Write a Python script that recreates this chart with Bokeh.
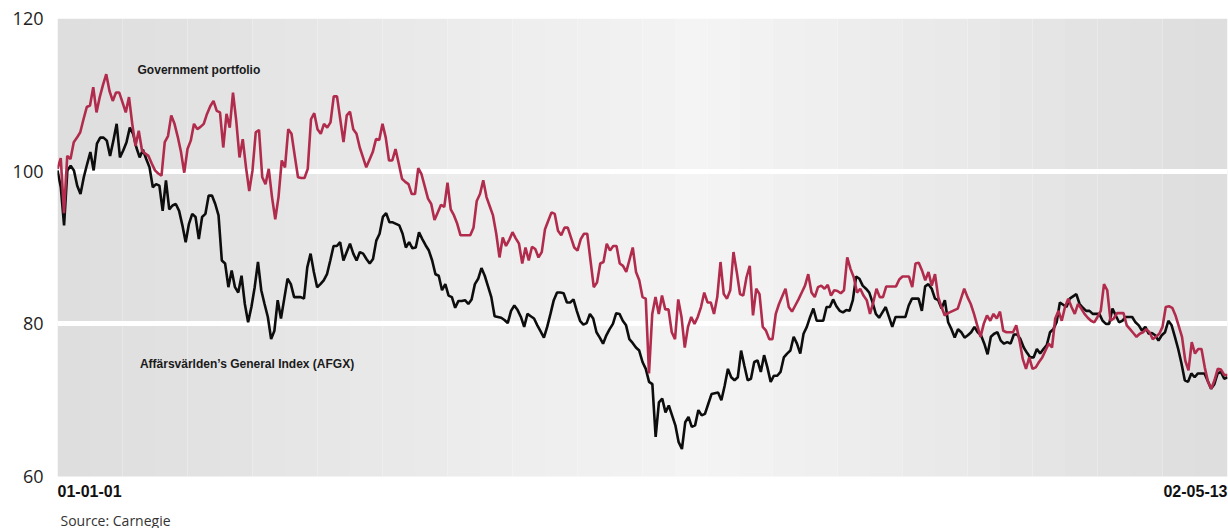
import numpy as np
import pandas as pd
from bokeh.plotting import figure
from bokeh.models import Label, Range1d, FixedTicker
from bokeh.embed import file_html
from bokeh.resources import INLINE

# ---- data (index level) ----
start_date = "2001-01-01"
end_date = "2002-05-13"

government_portfolio = [
    100.3, 101.7, 94.5, 102.0, 101.6, 103.8, 104.4, 105.1, 106.8, 108.4,
    108.6, 111.0, 107.7, 109.7, 111.3, 112.7, 110.5, 109.2, 110.3, 110.3,
    109.0, 107.7, 109.7, 106.2, 103.3, 105.3, 102.7, 102.3, 102.0, 101.0,
    100.1, 99.7, 99.4, 103.8, 104.6, 107.3, 106.2, 104.5, 102.5, 99.8,
    102.9, 104.0, 106.2, 105.5, 105.8, 106.2, 107.5, 108.5, 109.2, 107.9,
    107.7, 103.1, 107.5, 105.7, 110.3, 106.6, 101.8, 104.2, 100.5, 97.4,
    100.1, 105.1, 105.4, 99.2, 98.3, 100.3, 96.6, 93.7, 96.6, 101.4,
    100.5, 105.5, 104.9, 102.0, 99.2, 99.1, 99.1, 100.3, 106.8, 107.6,
    105.5, 104.9, 106.2, 105.7, 106.4, 109.8, 109.8, 106.8, 103.8, 107.3,
    107.8, 105.5, 104.9, 103.1, 101.8, 100.5, 101.5, 102.5, 104.2, 104.1,
    106.2, 104.4, 101.4, 101.4, 102.9, 101.0, 99.0, 98.6, 98.3, 97.0,
    97.0, 100.4, 99.6, 98.0, 96.4, 95.7, 93.6, 94.6, 95.6, 95.3,
    98.5, 95.0, 94.2, 93.1, 91.6, 91.6, 91.6, 91.6, 92.6, 96.1,
    97.0, 98.8, 96.6, 95.4, 94.2, 91.8, 88.7, 91.3, 90.2, 91.0,
    92.0, 91.2, 90.5, 87.9, 90.0, 88.3, 90.1, 89.8, 88.7, 89.4,
    92.4, 93.5, 94.6, 94.4, 92.2, 91.6, 92.6, 92.6, 91.3, 90.0,
    89.6, 91.1, 91.8, 91.8, 88.3, 84.8, 85.4, 87.9, 88.1, 90.5,
    89.6, 90.2, 90.2, 87.9, 87.6, 86.8, 88.4, 90.0,
    86.8, 85.7, 83.5, 83.3, 73.5, 81.3, 83.5, 81.3, 83.7, 81.9,
    81.9, 78.9, 78.0, 83.2, 80.9, 76.9, 79.6, 80.9, 80.0, 80.9,
    82.2, 84.1, 82.8, 82.8, 81.3, 83.5, 88.1, 83.9, 83.3, 84.4,
    89.4, 86.8, 83.9, 83.7, 86.1, 87.6, 81.1, 84.6, 83.9, 79.6,
    79.1, 78.0, 78.0, 81.3, 82.6, 83.6, 84.6, 82.2, 81.6, 82.4,
    83.2, 84.1, 85.0, 86.5, 84.1, 83.5, 84.8, 85.0, 84.6,
    85.1, 83.7, 84.4, 84.3, 84.0, 84.4, 88.7, 87.2, 86.1, 84.1,
    84.6, 83.7, 83.1, 81.3, 82.8, 84.6, 83.5, 83.5, 84.9, 84.9,
    84.9, 84.9, 85.8, 86.2, 86.2, 86.2, 84.8, 87.9, 88.0, 87.0,
    85.7, 86.8, 85.0, 86.5, 83.5, 82.2, 81.1, 81.4, 81.6, 81.8,
    82.0, 83.3, 84.6, 83.5, 82.6, 81.3, 79.8, 78.3, 80.0, 81.1,
    80.4, 81.3, 80.7, 81.6, 79.1, 78.9, 78.9, 78.9, 79.8, 77.8,
    75.4,
    74.1, 75.6, 74.1, 74.3, 75.0, 75.6, 76.5, 77.4, 76.9, 80.7,
    81.7, 80.4, 82.2, 83.3, 82.2, 81.3, 82.6, 82.0, 81.3, 80.8,
    80.4, 80.2, 80.9, 81.7, 85.2, 84.4, 80.4, 80.7, 81.4, 81.4,
    81.4, 79.8, 79.3, 78.8, 78.3, 78.7, 78.9, 79.3, 78.9, 78.0,
    78.3, 78.7, 79.6, 82.2, 82.3, 82.1, 81.1, 79.7, 78.3, 75.2,
    73.9, 77.6, 76.1, 76.7, 76.7, 74.3, 72.4, 71.5, 72.6, 74.1,
    74.0, 73.3, 73.3,
]

afgx = [
    100.1, 97.9, 92.9, 100.1, 100.7, 100.1, 98.1, 97.0, 99.2, 100.9,
    102.5, 100.1, 103.6, 104.4, 104.4, 104.0, 102.0, 104.0, 106.2, 101.8,
    102.7, 103.8, 105.7, 104.9, 103.1, 101.8, 102.8, 101.6, 100.5, 97.9,
    98.3, 98.1, 94.8, 98.8, 95.0, 95.5, 95.7, 94.8, 92.9, 90.7,
    93.1, 94.4, 94.0, 91.1, 94.0, 94.4, 96.8, 96.8, 95.7, 94.2,
    88.3, 87.9, 84.8, 87.0, 84.8, 84.1, 86.3, 82.6, 80.2, 82.2,
    84.8, 88.1, 84.4, 82.6, 80.9, 78.0, 79.1, 83.1, 80.7, 83.3,
    85.9, 85.2, 83.5, 83.5, 83.5, 83.3, 87.4, 89.2, 86.8, 84.8,
    85.2, 85.7, 86.5, 88.3, 90.2, 90.2, 90.7, 88.3, 89.4, 90.5,
    89.2, 88.3, 89.4, 89.2, 88.5, 87.9, 88.5, 90.9, 91.8, 94.0,
    94.5, 93.3, 93.3, 93.1, 92.9, 91.8, 90.0, 90.7, 89.9, 90.0,
    92.0, 91.1, 90.3, 89.6, 88.3, 86.5, 86.3, 84.4,
    85.2, 83.7, 83.5, 82.1, 83.0, 83.0, 83.1, 82.6, 83.2, 85.2,
    85.9, 87.3, 86.3, 84.9, 83.5, 81.0, 80.9, 80.8, 80.5, 80.1,
    81.7, 82.4, 81.8, 80.9, 79.6, 81.3, 81.0, 80.7, 79.8, 79.0,
    78.2, 79.6, 81.3, 83.1, 84.1, 84.1, 84.0, 82.8, 82.8, 83.2,
    81.7, 80.4, 79.9, 80.1, 81.3, 80.7, 78.9, 78.2, 77.4, 78.5,
    79.3, 80.0, 81.4, 81.3, 80.4, 79.8, 78.0, 77.5, 76.9, 76.5,
    75.0, 74.1, 72.4, 72.1, 65.2, 69.7, 70.2, 68.4, 69.3, 68.0,
    66.7, 64.5, 63.6, 67.1, 67.8, 66.5, 66.7, 68.7, 68.0, 68.2,
    69.5, 70.8, 70.9, 71.0, 70.0, 71.9, 74.1, 73.0, 72.6, 73.0,
    76.5, 74.5, 72.6, 72.8, 75.0, 75.2, 73.7, 75.9, 74.3, 72.4,
    73.2, 73.2, 73.7, 75.6, 76.1, 76.5, 78.3, 77.4, 76.1, 78.7,
    79.6, 80.9, 82.0, 80.4, 80.4, 80.4, 82.2, 82.2, 83.2,
    82.3, 81.7, 81.5, 81.8, 81.7, 83.1, 86.2, 85.9, 85.0, 84.6,
    84.1, 82.8, 81.3, 80.8, 81.5, 82.2, 80.9, 79.6, 80.9, 80.9,
    80.9, 80.9, 82.4, 83.3, 83.3, 83.3, 81.7, 84.9, 85.2, 84.6,
    83.3, 83.1, 82.0, 83.1, 80.2, 79.3, 78.2, 79.3, 78.9, 78.2,
    78.5, 78.9, 79.6, 78.9, 78.5, 77.4, 76.0, 78.3, 78.7, 78.9,
    77.8, 77.4, 77.6, 77.4, 78.6, 78.6, 78.0, 76.9, 76.2,
    75.6, 75.6, 76.7, 76.1, 76.7, 77.2, 78.9, 79.3, 80.2, 82.8,
    82.5, 82.2, 83.3, 83.6, 83.9, 82.6, 82.1, 81.7, 81.7, 81.3,
    81.3, 81.3, 80.4, 80.0, 80.0, 82.0, 81.1, 80.2, 80.4, 80.9,
    80.9, 80.9, 80.2, 79.8, 79.1, 79.6, 78.7, 78.8, 78.5, 77.8,
    78.5, 78.9, 80.4, 79.8, 78.3, 76.7, 74.8, 72.6, 72.4, 73.5,
    73.0, 73.5, 73.5, 73.5, 72.5, 71.5, 72.1, 73.5, 73.7, 72.8,
    73.0,
]

y_ticks = [60, 80, 100, 120]
y_min, y_max = 60, 120
series_labels = ["Government portfolio", "Affärsvärlden\u2019s General Index (AFGX)"]
source_text = "Source: Carnegie"

# ---- layout ----
W, H = 1228, 528
top_px, left_px, right_px = 18, 57, 1
frame_h = H - top_px               # frame runs to the bottom edge (room for footer texts)
px_per_unit = 458.0 / (y_max - y_min)
y_low = y_max - frame_h / px_per_unit  # extra space below 60 holds the footer texts

t0 = pd.Timestamp(start_date)
t1 = pd.Timestamp(end_date)
gov_x = pd.date_range(t0, t1, periods=len(government_portfolio))
afgx_x = pd.date_range(t0, t1, periods=len(afgx))

p = figure(width=W, height=H, x_axis_type="datetime",
           x_range=Range1d(t0, t1), y_range=Range1d(y_low, y_max),
           output_backend="svg", toolbar_location=None,
           min_border_left=left_px, min_border_right=right_px,
           min_border_top=top_px, min_border_bottom=0)
p.outline_line_color = None
p.background_fill_color = "white"
p.border_fill_color = "white"

# vertical banded gradient background of the chart area
n_bands = 36
edges = pd.date_range(t0, t1, periods=n_bands + 1)
frac = (np.arange(n_bands) + 0.5) / n_bands
peak = 0.55
tt = np.where(frac < peak, (peak - frac) / peak, (frac - peak) / (1 - peak))
shade = np.round(244 - 23 * tt).astype(int)
colors = ["#%02x%02x%02x" % (s, s, s) for s in shade]
p.quad(left=edges[:-1], right=edges[1:], bottom=y_min, top=y_max,
       fill_color=colors, line_color=None, level="image")

# grid (white bands at inner ticks)
p.xgrid.visible = False
p.ygrid.ticker = FixedTicker(ticks=y_ticks[1:-1])
p.ygrid.grid_line_color = "white"
p.ygrid.grid_line_width = 5

# axes
p.xaxis.visible = False
p.yaxis.ticker = FixedTicker(ticks=y_ticks)
p.yaxis.axis_line_color = None
p.yaxis.major_tick_line_color = None
p.yaxis.minor_tick_line_color = None
p.yaxis.major_tick_in = 0
p.yaxis.major_tick_out = 0
p.yaxis.major_label_standoff = 14
p.yaxis.major_label_text_font = "Open Sans"
p.yaxis.major_label_text_font_size = "18px"
p.yaxis.major_label_text_color = "#1e1e1e"

# lines
p.line(afgx_x, afgx, line_color="#0d0d0d", line_width=2.6)
p.line(gov_x, government_portfolio, line_color="#b12c4c", line_width=2.6)

# series labels
p.add_layout(Label(x=pd.Timestamp("2001-02-04"), y=113.3, text=series_labels[0],
                   text_font="Liberation Sans", text_font_style="bold",
                   text_font_size="12px", text_color="#1a1a1a",
                   text_baseline="middle", text_align="left"))
p.add_layout(Label(x=pd.Timestamp("2001-02-05"), y=74.8, text=series_labels[1],
                   text_font="Liberation Sans", text_font_style="bold",
                   text_font_size="12px", text_color="#1a1a1a",
                   text_baseline="middle", text_align="left"))

# date labels at both ends
p.add_layout(Label(x=t0, y=y_min, y_offset=-8, text=t0.strftime("%y-%m-%d"),
                   text_font="Liberation Sans", text_font_style="bold",
                   text_font_size="16px", text_color="#111111",
                   text_baseline="top", text_align="left"))
p.add_layout(Label(x=t1, y=y_min, y_offset=-8, text=t1.strftime("%y-%m-%d"),
                   text_font="Liberation Sans", text_font_style="bold",
                   text_font_size="16px", text_color="#111111",
                   text_baseline="top", text_align="right"))

# source
p.add_layout(Label(x=t0, x_offset=3, y=y_min, y_offset=-34, text=source_text,
                   text_font="Open Sans", text_font_size="14px",
                   text_color="#333333", text_baseline="top", text_align="left"))

open("out.html", "w").write(file_html(p, INLINE))
